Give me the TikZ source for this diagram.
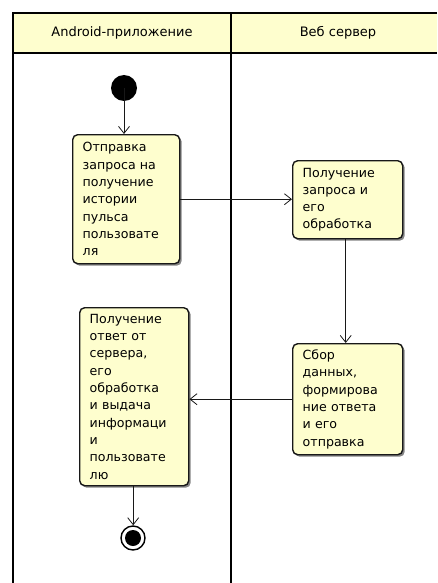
\documentclass[tikz,border=0pt]{standalone}
\usepackage{fontspec}
\setmainfont{DejaVu Sans}
\usetikzlibrary{arrows.meta,shadows}
\definecolor{umlfill}{HTML}{FEFECE}
\definecolor{umlline}{HTML}{181818}
\begin{document}
\begin{tikzpicture}[x=1pt,y=-1pt,
  actbox/.style={draw=umlline, line width=1.4pt, fill=umlfill, rounded corners=5pt,
    drop shadow={shadow xshift=2pt, shadow yshift=-2pt, fill=black!60, opacity=0.8},
    align=left, anchor=north west, inner xsep=10pt, inner ysep=5pt,
    font=\fontsize{12.6}{17.3}\selectfont},
  flow/.style={draw=umlline, line width=0.8pt, -{Straight Barb[length=7pt,width=11pt]}},
  lane/.style={draw=black, line width=1.8pt},
  hdr/.style={font=\fontsize{13}{15}\selectfont}]
\useasboundingbox (0,0) rectangle (437,583);
\fill[umlfill] (13,13) rectangle (437,53);
\draw[lane] (437,13) -- (13,13) -- (13,583);
\draw[lane] (231,13) -- (231,583);
\draw[lane] (13,53) -- (437,53);
\node[hdr] (h1) at (122,33) {Android-приложение};
\node[hdr] (h2) at (338,33) {Веб сервер};
\fill[black] (124,88) circle (13) coordinate (init);
\node[actbox, text width=87pt, minimum height=129pt, minimum width=107pt] (b1) at (72,134)
  {Отправка\\запроса на\\получение\\истории\\пульса\\пользовате\\ля};
\node[actbox, text width=90pt, minimum height=78pt, minimum width=110pt] (b2) at (292,160)
  {Получение\\запроса и\\его\\обработка};
\node[actbox, text width=89pt, minimum height=178pt, minimum width=109pt] (b3) at (79,307)
  {Получение\\ответ от\\сервера,\\его\\обработка\\и выдача\\информаци\\и\\пользовате\\лю};
\node[actbox, text width=90pt, minimum height=111pt, minimum width=110pt] (b4) at (292,343)
  {Сбор\\данных,\\формирова\\ние ответа\\и его\\отправка};
\node[circle, draw=black, line width=1.4pt, fill=white, minimum size=24pt, inner sep=0pt] (fin) at (133,538) {};
\fill[black] (fin.center) circle (8);
\draw[flow] (init) -- (init |- b1.north);
\draw[flow] (b1.east) -- (b1.east -| b2.west);
\draw[flow] ([xshift=-2pt]b2.south) -- ([xshift=-2pt]b2.south |- b4.north);
\draw[flow] (b4.west) -- (b4.west -| b3.east);
\draw[flow] ([xshift=-1pt]b3.south) -- ([xshift=-1pt]b3.south |- fin.north);
\end{tikzpicture}
\end{document}
